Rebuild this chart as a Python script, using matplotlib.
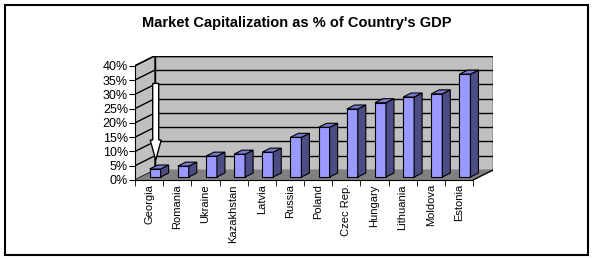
import numpy as np
import matplotlib
matplotlib.use("Agg")
from matplotlib import pyplot as plt
from matplotlib.patches import Polygon, Rectangle, FancyArrow

countries = ["Georgia", "Romania", "Ukraine", "Kazakhstan", "Latvia", "Russia",
             "Poland", "Czec Rep.", "Hungary", "Lithuania", "Moldova", "Estonia"]
market_cap = [2.8, 3.8, 7.3, 8.0, 8.7, 13.9, 17.4, 23.8, 26.0, 28.0, 29.1, 36.0]
y_ticks = [0, 5, 10, 15, 20, 25, 30, 35, 40]
y_labels = ["0%", "5%", "10%", "15%", "20%", "25%", "30%", "35%", "40%"]

plt.rcParams['font.family'] = ['Liberation Sans', 'DejaVu Sans']

W, H = 594, 260
fig = plt.figure(figsize=(W / 100, H / 100), dpi=100)

# geometry of the fake 3d box (pixels)
x0_px, cat_px = 135, 28.17
base_px, pct_px = 180, 2.857
depth_x_px, depth_y_px = 20, 10
n = len(countries)
DX = depth_x_px / cat_px      # depth offset in category units
DY = depth_y_px / pct_px      # depth offset in percent units

ax = fig.add_axes([x0_px / W, (H - base_px) / H,
                   (n * cat_px + depth_x_px) / W, (40 * pct_px + depth_y_px) / H])
ax.set_xlim(-0.5, n - 0.5 + DX)
ax.set_ylim(0, 40 + DY)
ax.patch.set_visible(False)

wall = '#C0C0C0'
floor = '#808080'
left, right = -0.5, n - 0.5

# walls and floor
ax.add_patch(Polygon([(left + DX, DY), (right + DX, DY), (right + DX, 40 + DY), (left + DX, 40 + DY)],
                     closed=True, fc=wall, ec='black', lw=1, zorder=1))
ax.add_patch(Polygon([(left, 0), (left + DX, DY), (left + DX, 40 + DY), (left, 40)],
                     closed=True, fc=wall, ec='black', lw=1, zorder=1))
ax.add_patch(Polygon([(left, 0), (right, 0), (right + DX, DY), (left + DX, DY)],
                     closed=True, fc=floor, ec='none', lw=0, zorder=1))
ax.plot([right, right + DX], [0, DY], color='black', lw=1, zorder=2)

# gridlines on back and side walls
for v in y_ticks[1:]:
    ax.plot([left + DX, right + DX], [v + DY, v + DY], color='black', lw=1, zorder=2)
    ax.plot([left, left + DX], [v, v + DY], color='black', lw=1, zorder=2)

# bars
front_c, top_c, side_c = '#9999FF', '#7A7AD0', '#4D4D85'
bw = 11 / cat_px
d0, d1 = 0.3, 0.7
bdx, bdy = (d1 - d0) * DX, (d1 - d0) * DY
xs = np.arange(n) + d0 * DX
b0 = d0 * DY
ax.bar(xs, market_cap, width=bw, bottom=b0, color=front_c, edgecolor='black', lw=0.8, zorder=3)
for x, v in zip(xs, market_cap):
    xl, xr, t = x - bw / 2, x + bw / 2, b0 + v
    ax.add_patch(Polygon([(xr, b0), (xr + bdx, b0 + bdy), (xr + bdx, t + bdy), (xr, t)],
                         closed=True, fc=side_c, ec='black', lw=0.8, zorder=3))
    ax.add_patch(Polygon([(xl, t), (xr, t), (xr + bdx, t + bdy), (xl + bdx, t + bdy)],
                         closed=True, fc=top_c, ec='black', lw=0.8, zorder=3))

# arrow pointing at Georgia
ax.add_patch(FancyArrow(0.235, 33.8, 0, -26.8, width=6 / cat_px, head_width=11 / cat_px,
                        head_length=7, length_includes_head=True, fc='white', ec='black',
                        lw=1, zorder=4))

# axes
for s in ['top', 'right']:
    ax.spines[s].set_visible(False)
ax.spines['left'].set_bounds(0, 40)
ax.spines['bottom'].set_bounds(left, right)
ax.spines['left'].set_zorder(5)
ax.spines['bottom'].set_zorder(5)
ax.set_yticks(y_ticks)
ax.set_yticklabels(y_labels, fontsize=9)
ax.tick_params(axis='y', length=4, pad=1)
ax.set_xticks(np.arange(n))
ax.set_xticklabels(countries, rotation=90, fontsize=8)
ax.set_xticks(np.arange(n + 1) - 0.5, minor=True)
ax.tick_params(axis='x', which='major', length=0, pad=3)
ax.tick_params(axis='x', which='minor', length=4)

fig.text(297 / W, 1 - 23 / H, "Market Capitalization as % of Country's GDP",
         ha='center', va='center', fontsize=10.5, fontweight='bold')

fig.patches.append(Rectangle((5 / W, 1 - 255 / H), 583 / W, 250 / H, transform=fig.transFigure,
                             fill=False, ec='black', lw=1.5))

fig.savefig("out.png", dpi=100)
